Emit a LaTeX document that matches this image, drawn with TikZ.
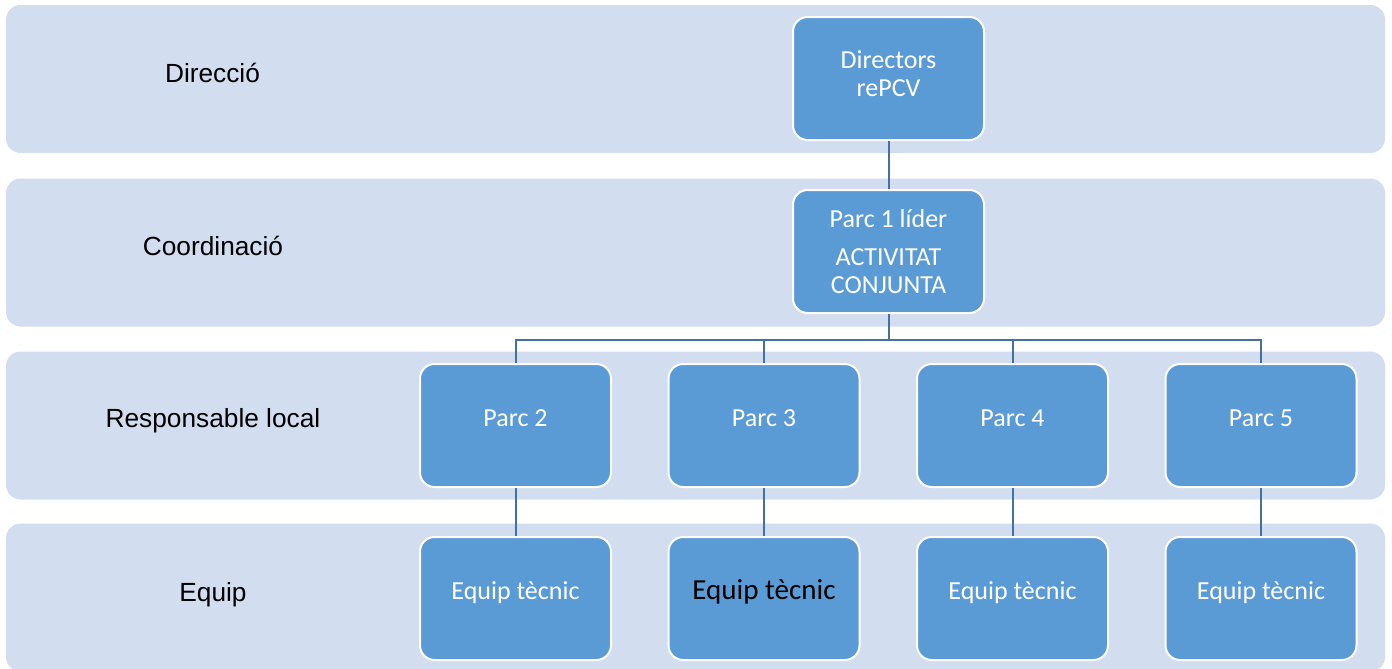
\documentclass[tikz,border=0pt]{standalone}
\usepackage{fontspec}
\setmainfont{Carlito}
\newfontfamily\labelfont{Liberation Sans}
\usepackage{xcolor}
\usetikzlibrary{positioning}

\definecolor{bandfill}{RGB}{210,222,239}
\definecolor{boxfill}{RGB}{91,155,213}
\definecolor{linkcol}{RGB}{68,114,160}

\tikzset{
  band/.style={fill=bandfill, rounded corners=11pt, minimum width=1034.25pt, minimum height=111pt, inner sep=0pt},
  levellabel/.style={font=\labelfont\fontsize{19.7}{24}\selectfont, text=black, inner sep=0.75pt},
  unitbox/.style={fill=boxfill, draw=white, line width=1.5pt, rounded corners=11pt, minimum width=143.25pt, minimum height=92.25pt, text=white, align=center, font=\fontsize{19.5}{21}\selectfont, inner sep=0pt},
  oneline/.style={text height=12pt, text depth=9.8pt},
  link/.style={draw=linkcol, line width=1.5pt}
}

\begin{document}
\begin{tikzpicture}[x=0.75pt,y=0.75pt,yscale=-1,xscale=1]
\useasboundingbox (0,0) rectangle (1392,668);

% Bands
\node [band] (bandDir) at (695.5,79) {};
\node [band] (bandCoord) at (695.5,252.5) {};
\node [band] (bandResp) at (695.5,425.5) {};
\node [band] (bandEquip) at (695.5,597.5) {};

% Level labels
\node [levellabel] (lblDir) at (212.5,73) {Direcció};
\node [levellabel] (lblCoord) at (213,246) {Coordinació};
\node [levellabel] (lblResp) at (213,421) {Responsable local};
\node [levellabel] (lblEquip) at (213,595) {Equip};

% Top boxes
\node [unitbox, text depth=7.5pt] (dir) at (888.5,78.5) {Directors\\rePCV};
\node [unitbox] (parc1) at (888.5,251.5) {Parc 1 líder\\[7pt]ACTIVITAT\\CONJUNTA};

% Local parks and teams
\node [unitbox, oneline] (parc2) at (515.5,425.5) {Parc 2};
\node [unitbox, oneline] (parc3) at (764,425.5) {Parc 3};
\node [unitbox, oneline] (parc4) at (1012.5,425.5) {Parc 4};
\node [unitbox, oneline] (parc5) at (1261,425.5) {Parc 5};
\node [unitbox, oneline] (team2) at (515.5,598.5) {Equip tècnic};
\node [unitbox, oneline, text=black, font=\fontsize{21.8}{24}\selectfont] (team3) at (764,598.5) {Equip tècnic};
\node [unitbox, oneline] (team4) at (1012.5,598.5) {Equip tècnic};
\node [unitbox, oneline] (team5) at (1261,598.5) {Equip tècnic};

% Connectors
\coordinate (bus) at (888.5,340);
\draw [link] (dir.south) -- (parc1.north);
\draw [link] (parc1.south) -- (bus);
\foreach \i in {2,3,4,5} {
  \draw [link] (bus) -| (parc\i.north);
  \draw [link] (parc\i.south) -- (team\i.north);
}

\end{tikzpicture}
\end{document}
